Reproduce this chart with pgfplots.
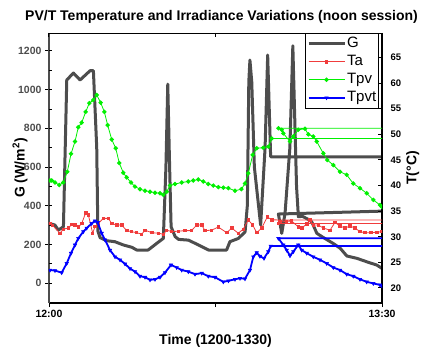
\documentclass[border=0pt]{standalone}
\usepackage{fontspec}
\setmainfont{Liberation Sans}
\usepackage{pgfplots}
\pgfplotsset{compat=1.18}

\definecolor{gcol}{HTML}{4D4D4D}
\definecolor{tacol}{HTML}{F03C3C}
\definecolor{tpvcol}{HTML}{00F000}
\definecolor{tpvtcol}{HTML}{0000FF}

% minutes after 12:00 ; points at t=150 lie beyond the right edge (data wrap at 13:00)
\pgfplotstableread{
t G
0 309
1.6 300
2.5 274
3.9 291
4.8 1050
6.6 1086
8.4 1050
11.1 1098
12.0 1098
12.9 700
13.2 270
13.8 235
15.6 219
17.8 214
20.1 197
22.4 185
23.7 171
26.8 171
29.1 205
30.9 231
31.6 600
32.1 1029
32.6 600
33.0 291
34.1 240
35.0 226
37.7 222
40.4 197
43.1 171
48.0 171
48.9 214
51.2 231
53.0 265
53.6 400
54.0 1040
54.3 1153
54.8 1040
55.5 600
57.2 300
58.4 700
59.1 1179
59.9 653
150 653
150 404
62.0 357
62.9 257
63.8 362
65.1 700
65.9 1227
66.9 500
67.4 343
68.5 345
70.0 330
71.0 317
72.4 257
74.1 236
76.8 205
78.7 180
80.5 140
83.2 128
85.9 110
88.6 93
90 76
}\Gdata

\pgfplotstableread{
t T
0.27 32.6
1.0 32.2
2.97 30.7
3.86 31.5
5.22 31.7
6.14 32.4
7.03 32.3
7.92 31.9
8.84 32.6
9.92 34.7
10.62 34.3
11.81 30.7
12.43 32.0
13.32 32.6
14.68 33.6
16.03 33.6
16.95 32.6
18.30 32.3
19.65 32.3
21.0 31.2
22.35 31.0
23.70 30.8
25.05 30.5
25.95 31.3
27.76 30.8
29.54 30.7
30.89 30.5
31.81 31.3
33.16 31.0
34.95 31.1
36.76 31.2
38.5 31.2
39.92 32.3
41.27 32.3
42.16 31.2
43.97 31.3
45.76 31.9
48.03 30.8
49.38 31.7
51.16 30.7
52.51 31.5
53.86 33.3
55.05 32.3
56.14 30.8
57.49 31.7
59.0 33.9
60.19 33.3
150 33.2
150 32.6
62.0 32.6
62.43 32.9
64.24 33.0
65.59 33.1
67.38 31.9
68.3 31.7
69.65 32.5
70.54 33.3
71.43 32.3
72.78 32.3
74.14 31.7
75.95 31.3
77.3 32.8
78.65 32.1
80.0 31.7
81.35 32.1
82.7 31.7
84.05 31.0
85.41 30.8
87.0 30.8
88.57 30.9
90 31.0
}\Tadata

\pgfplotstableread{
t T
0.27 41.0
0.73 41.0
1.62 40.6
2.78 40.1
3.86 40.6
4.95 42.7
5.95 46.2
7.03 48.6
7.92 51.4
8.84 52.3
9.92 54.4
10.89 56.1
11.97 56.7
12.89 57.7
13.97 56.2
14.95 54.4
15.86 51.8
16.95 49.0
18.03 47.3
19.0 44.4
20.08 42.5
21.0 41.6
22.16 40.6
23.24 39.8
24.59 39.3
25.95 39.0
27.3 38.8
28.65 38.6
30.0 38.5
30.89 38.2
31.81 38.8
32.7 40.0
34.05 40.3
35.86 40.6
37.65 40.8
39.0 41.0
40.35 41.2
41.7 40.8
43.05 40.3
44.4 40.0
45.76 39.7
47.1 39.6
48.46 39.5
50.27 39.0
52.0 39.3
52.97 40.4
53.86 42.4
55.05 46.0
56.14 47.3
57.92 47.4
59.27 47.6
60.19 49.2
150 49.2
150 51.2
62.0 51.2
62.89 50.9
63.32 50.2
65.14 48.6
66.03 49.6
67.38 50.9
69.19 51.1
70.08 50.0
71.43 49.6
72.35 48.6
74.14 46.3
75.22 45.0
76.84 44.0
78.65 42.7
80.46 42.1
82.24 40.4
84.05 39.5
85.86 38.5
87.65 37.2
89.46 36.2
90 35.8
}\Tpvdata

\pgfplotstableread{
t T
0.27 23.5
1.62 23.4
3.43 23.0
4.78 24.8
5.95 26.8
7.03 28.4
7.92 29.7
9.27 31.0
10.19 31.7
11.54 32.6
12.43 33.1
13.16 32.8
14.24 30.7
15.14 29.4
16.49 27.4
17.84 26.1
19.19 25.5
20.54 24.7
21.89 23.8
23.24 23.2
24.59 22.3
25.95 22.1
27.3 21.6
28.65 21.7
30.0 22.1
31.35 23.0
32.97 24.5
34.51 24.0
35.86 23.5
37.65 23.2
39.46 22.7
41.27 22.9
43.05 22.3
44.86 22.1
47.11 21.2
48.5 21.4
50.27 21.7
51.62 21.9
52.97 21.8
54.32 23.5
55.22 26.1
56.14 26.9
57.0 26.2
58.11 25.8
59.27 27.1
59.92 28.2
150 28.2
150 29.7
62.0 29.7
63.32 28.4
64.24 27.4
65.14 26.3
66.03 27.1
67.38 28.4
68.3 27.4
69.65 26.8
71.43 26.1
73.24 25.5
75.05 24.8
76.84 24.0
78.65 23.5
80.46 22.7
82.24 22.3
84.05 21.7
85.86 21.2
87.65 20.9
89.46 20.6
90 20.4
}\Tpvtdata

\begin{document}
\begin{tikzpicture}
\pgfplotsset{
  every axis/.append style={
    at={(0pt,0pt)}, anchor=south west,
    width=333pt, height=270pt, scale only axis,
    xmin=0, xmax=90,
    clip marker paths=true,
    /pgf/number format/assume math mode=true,
    /pgf/number format/1000 sep={},
  },
}
% left axis : irradiance
\begin{axis}[
  ymin=-103, ymax=1293,
  axis x line*=bottom, axis y line*=left,
  x axis line style={-, line width=1.3pt},
  y axis line style={-, line width=2pt, gcol},
  xtick={0,45,90}, xticklabels={12:00,,13:30},
  ytick={0,200,...,1200},
  extra y ticks={0,100,...,1200}, extra y tick labels={},
  extra y tick style={tick align=inside, major tick length=3pt},
  tick align=outside, major tick length=4pt,
  tick style={line width=1pt, black},
  yticklabel style={font=\fontsize{10.5}{12}\selectfont\bfseries, text=gcol},
  xticklabel style={font=\fontsize{10.5}{12}\selectfont\bfseries},
  ylabel={G (W/m\textsuperscript{2})},
  every axis y label/.style={font=\fontsize{14}{16}\selectfont\bfseries,
    at={(axis description cs:-0.087,0.5)}, anchor=center, rotate=90},
  xlabel={Time (1200-1330)},
  xlabel style={font=\fontsize{14}{16}\selectfont\bfseries, yshift=-10pt},
  title={PV/T Temperature and Irradiance Variations (noon session)},
  title style={font=\fontsize{14}{16}\selectfont\bfseries, xshift=6pt, yshift=0pt},
]
\addplot[gcol, line width=3pt, line join=round, mark=none] table[x=t, y=G] {\Gdata};
\end{axis}
% right axis : temperatures
\begin{axis}[
  ymin=17.07, ymax=69.8,
  axis x line*=top, axis y line*=right,
  x axis line style={-, line width=0.8pt},
  y axis line style={-, line width=1.8pt},
  xtick={0,45,90}, xticklabels={},
  ytick={20,25,...,70},
  tick align=inside, major tick length=4pt,
  tick style={line width=1pt, black},
  yticklabel style={font=\fontsize{9.5}{11}\selectfont\bfseries, xshift=5pt},
  ylabel={T(°C)},
  every axis y label/.style={font=\fontsize{14}{16}\selectfont\bfseries,
    at={(axis description cs:1.092,0.5)}, anchor=center, rotate=90},
  legend cell align=left,
  legend image code/.code={\draw[mark repeat=2, mark phase=2, #1] plot coordinates {(0pt,0pt) (18pt,0pt) (36pt,0pt)};},
  legend style={at={(0.991,1)}, anchor=north east, draw=black, line width=0.6pt,
    fill=white, inner sep=1.5pt, font=\fontsize{15}{16}\selectfont,
    nodes={inner sep=1pt, text height=12pt, text depth=4pt},
    /tikz/every even column/.append style={column sep=1pt}},
]
\addlegendimage{gcol, line width=3pt, mark=none}
\addlegendentry{G}
\addplot[tacol, line width=0.8pt, mark=square*, mark size=1.2pt, mark options={solid}] table[x=t, y=T] {\Tadata};
\addlegendentry{Ta}
\addplot[tpvcol, line width=0.8pt, mark=*, mark size=1.8pt, mark options={solid}] table[x=t, y=T] {\Tpvdata};
\addlegendentry{Tpv}
\addplot[tpvtcol, line width=1.8pt, mark=triangle*, mark size=2pt, mark options={solid, rotate=180, line width=0.5pt}] table[x=t, y=T] {\Tpvtdata};
\addlegendentry{Tpvt}
\end{axis}
\pgfresetboundingbox
\path[use as bounding box] (-49pt,-49pt) rectangle (378pt,303pt);
\end{tikzpicture}
\end{document}
